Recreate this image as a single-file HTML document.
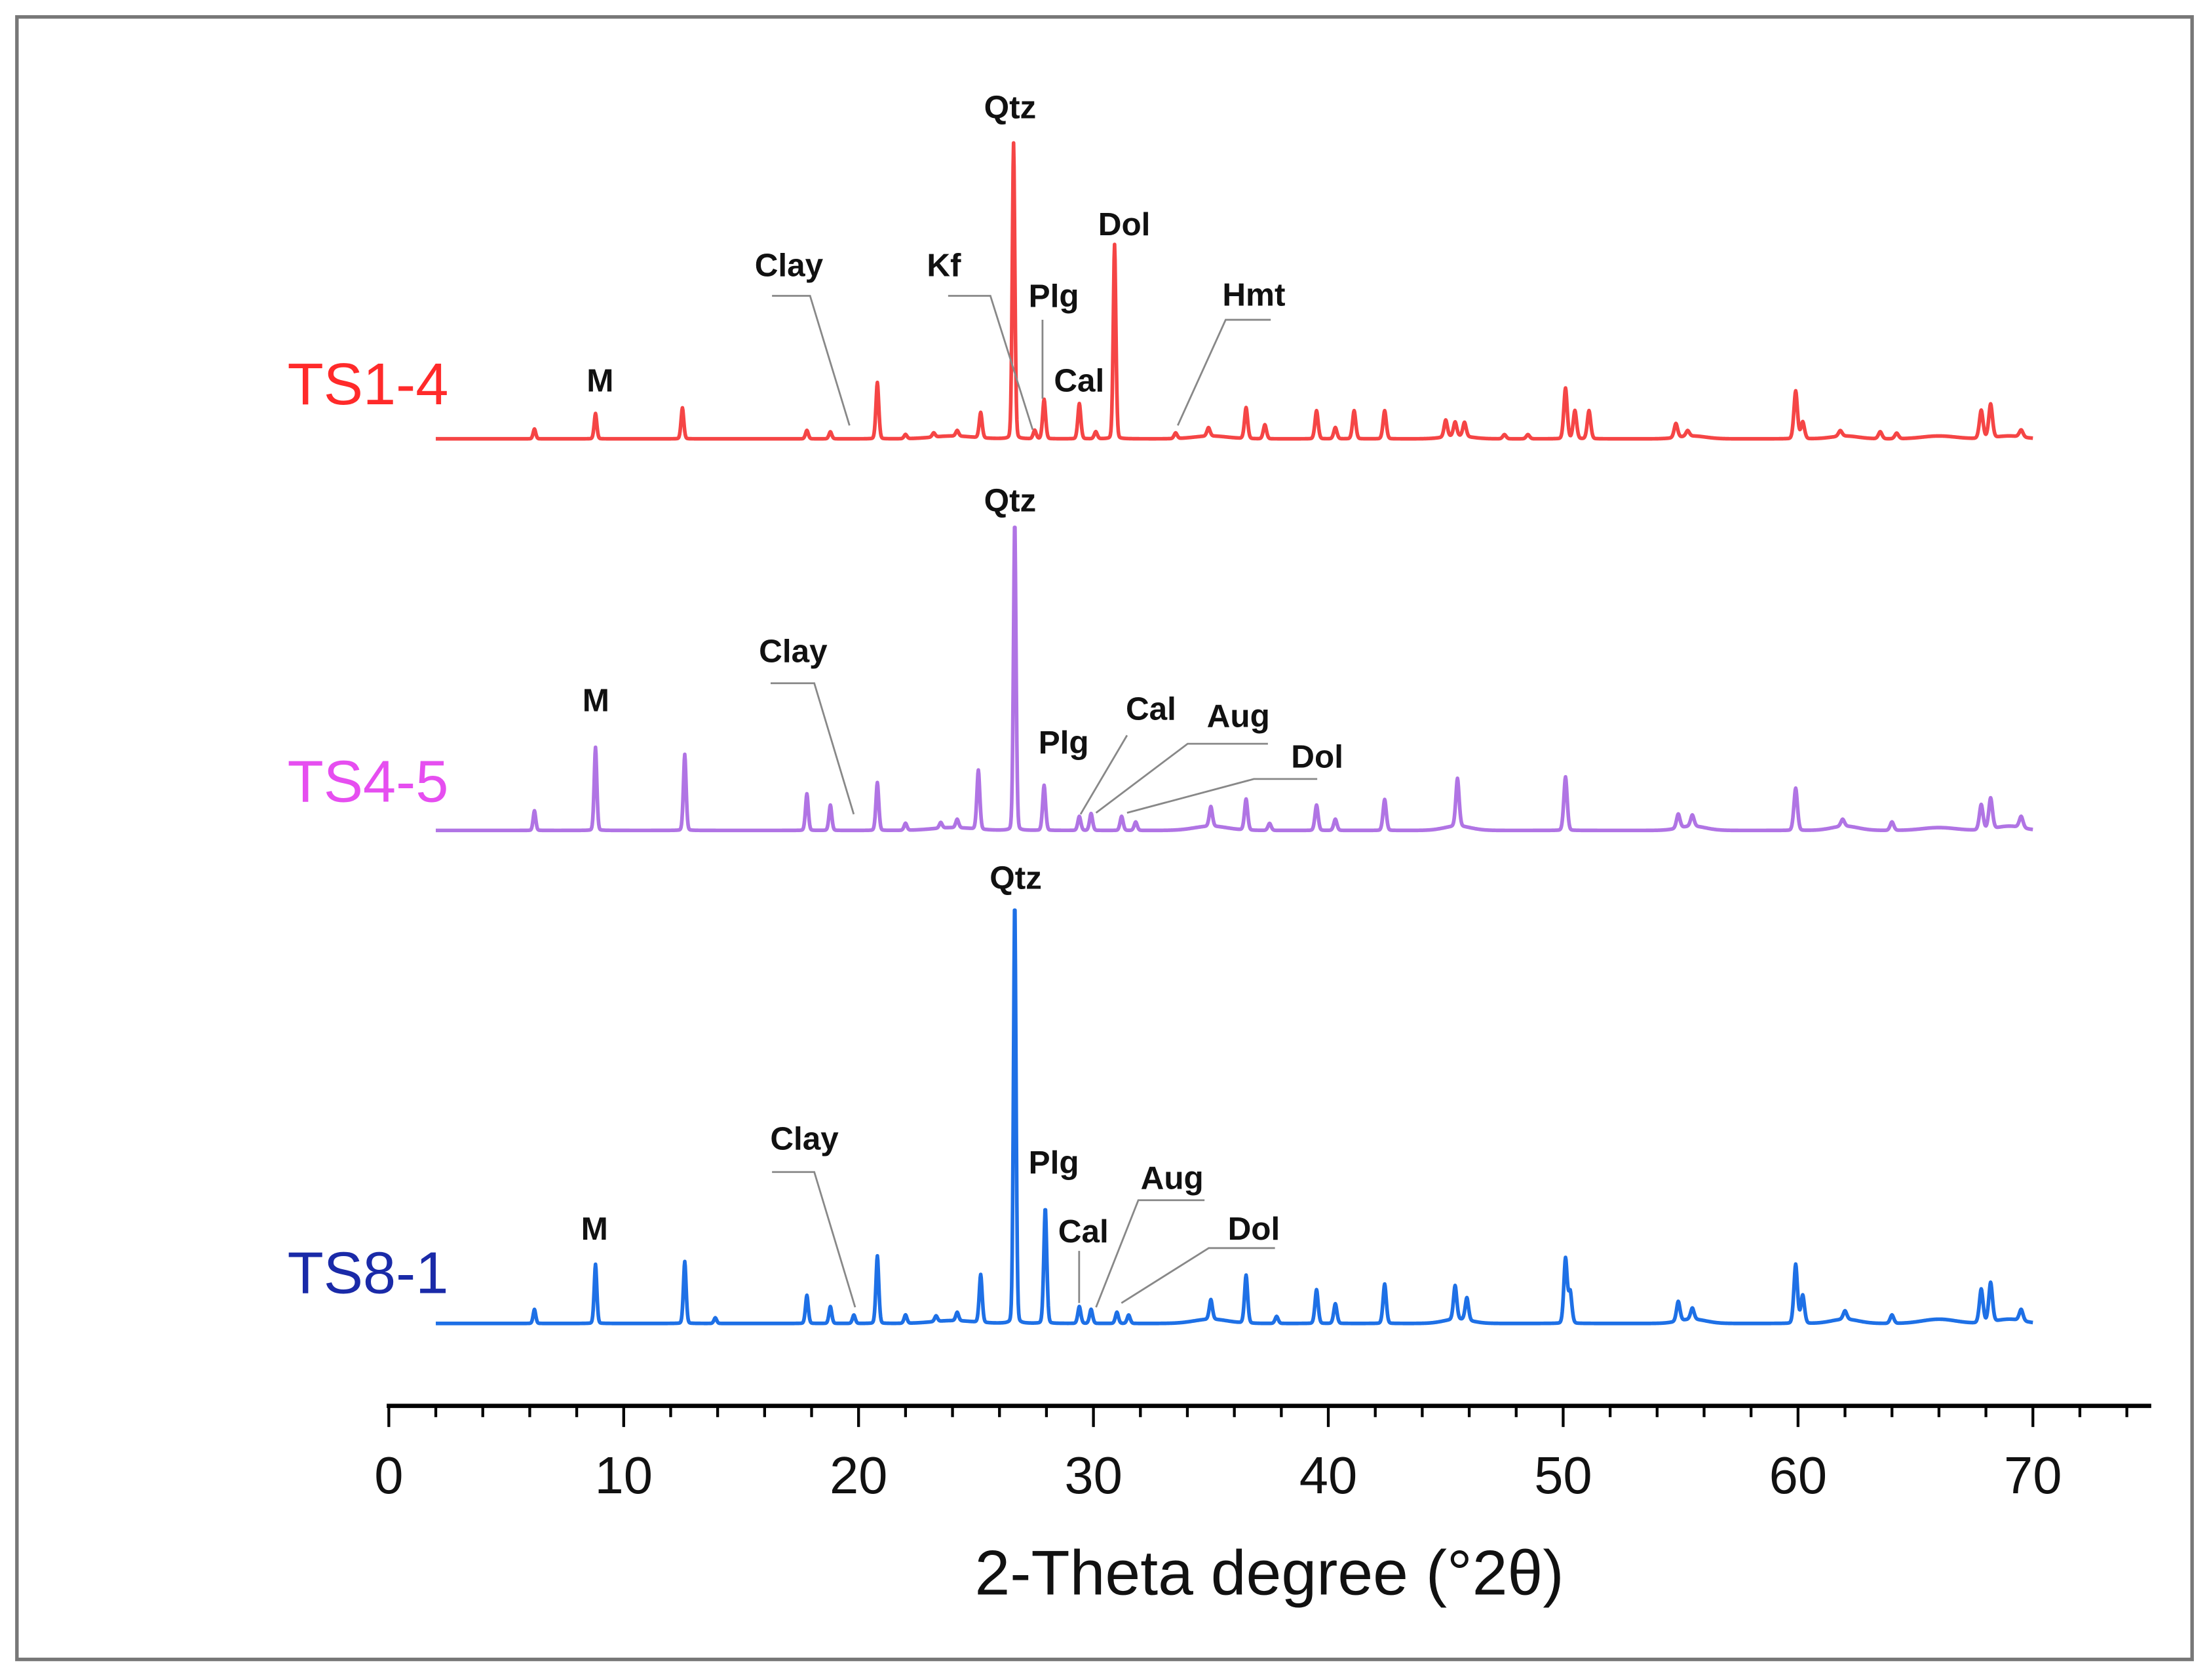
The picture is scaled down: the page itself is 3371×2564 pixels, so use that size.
<!DOCTYPE html>
<html><head><meta charset="utf-8"><style>
html,body{margin:0;padding:0;background:#fff}
svg{display:block}
text{font-family:"Liberation Sans",Arial,sans-serif}
.ann{font-weight:bold;font-size:23px;fill:#111}
.lead{stroke:#888;stroke-width:1.3;fill:none}
</style></head><body>
<svg id="chart" width="3371" height="2564" viewBox="0 0 1568 1192.6" xmlns="http://www.w3.org/2000/svg">
<rect x="12" y="12" width="1544" height="1166" fill="#fff" stroke="#777" stroke-width="2.5"/>
<g id="series"></g>
<g id="axis"></g>
<text x="901" y="1132" font-size="45" text-anchor="middle" fill="#111">2-Theta degree (°2θ)</text>
<text x="204" y="287" font-size="42" fill="#ff2a2a">TS1-4</text>
<text x="204" y="569" font-size="42" fill="#e64ef0">TS4-5</text>
<text x="204" y="918" font-size="42" fill="#1a2aa8">TS8-1</text>
<g>
<text class="ann" x="717" y="84" text-anchor="middle">Qtz</text>
<text class="ann" x="426" y="278" text-anchor="middle">M</text>
<text class="ann" x="560" y="196" text-anchor="middle">Clay</text>
<text class="ann" x="670" y="196" text-anchor="middle">Kf</text>
<text class="ann" x="748" y="218" text-anchor="middle">Plg</text>
<text class="ann" x="766" y="278" text-anchor="middle">Cal</text>
<text class="ann" x="798" y="167" text-anchor="middle">Dol</text>
<text class="ann" x="890" y="217" text-anchor="middle">Hmt</text>
<polyline class="lead" points="548,210 575,210 603,302"/>
<polyline class="lead" points="673,210 703,210 733,305"/>
<polyline class="lead" points="740,227 740,283"/>
<polyline class="lead" points="902,227 870,227 836,302"/>
</g>
<g>
<text class="ann" x="717" y="363" text-anchor="middle">Qtz</text>
<text class="ann" x="423" y="505" text-anchor="middle">M</text>
<text class="ann" x="563" y="470" text-anchor="middle">Clay</text>
<text class="ann" x="755" y="535" text-anchor="middle">Plg</text>
<text class="ann" x="817" y="511" text-anchor="middle">Cal</text>
<text class="ann" x="879" y="516" text-anchor="middle">Aug</text>
<text class="ann" x="935" y="545" text-anchor="middle">Dol</text>
<polyline class="lead" points="547,485 578,485 606,578"/>
<polyline class="lead" points="800,522 767,578"/>
<polyline class="lead" points="900,528 843,528 778,577"/>
<polyline class="lead" points="935,553 890,553 800,577"/>
</g>
<g>
<text class="ann" x="721" y="631" text-anchor="middle">Qtz</text>
<text class="ann" x="422" y="880" text-anchor="middle">M</text>
<text class="ann" x="571" y="816" text-anchor="middle">Clay</text>
<text class="ann" x="748" y="833" text-anchor="middle">Plg</text>
<text class="ann" x="769" y="882" text-anchor="middle">Cal</text>
<text class="ann" x="832" y="844" text-anchor="middle">Aug</text>
<text class="ann" x="890" y="880" text-anchor="middle">Dol</text>
<polyline class="lead" points="548,832 578,832 607,928"/>
<polyline class="lead" points="766,888 766,925"/>
<polyline class="lead" points="855,852 808,852 778,928"/>
<polyline class="lead" points="905,886 858,886 796,925"/>
</g>
</svg>
<script>
const ticks = [0,10,20,30,40,50,60,70];
const ts14Pos = [6.2,8.8,12.5,17.8,18.8,20.8,22,23.2,24.2,25.2,26.6,27.5,27.9,29.4,30.1,30.9,33.5,34.9,36.5,37.3,39.5,40.3,41.1,42.4,45,45.4,45.8,47.5,48.5,50.1,50.5,51.1,54.8,55.3,59.9,60.2,61.8,63.5,64.2,67.8,68.2,69.5];
const ts14Int = [7,18,22,6,5,40,3,3,4,18,210,6,28,25,5,138,4,6,22,10,20,8,20,20,12,10,10,3,3,36,20,20,10,4,34,12,4,5,4,20,24,5];
const ts45Pos = [6.2,8.8,12.6,17.8,18.8,20.8,22,23.5,24.2,25.1,26.65,27.9,29.4,29.9,31.2,31.8,35,36.5,37.5,39.5,40.3,42.4,45.5,50.1,54.9,55.5,59.9,61.9,64,67.8,68.2,69.5];
const ts45Int = [14,59,54,26,18,34,5,4,6,42,220,32,10,12,10,6,14,22,5,18,8,22,34,38,10,8,30,5,6,18,22,8];
const ts81Pos = [6.2,8.8,12.6,13.9,17.8,18.8,19.8,20.8,22,23.3,24.2,25.2,26.65,27.95,29.4,29.9,31,31.5,35,36.5,37.8,39.5,40.3,42.4,45.4,45.9,50.1,50.3,54.9,55.5,59.9,60.2,62,64,67.8,68.2,69.5];
const ts81Int = [10,42,44,4,20,12,6,48,6,4,6,34,300,82,12,10,8,6,14,34,5,24,14,28,24,16,46,22,14,8,42,20,6,6,24,28,8];
const humpPos = [24, 35, 45.5, 55.5, 62, 66, 69];
const ts14Hump = [2, 2, 2, 2, 2, 2, 2];
const ts45Hump = [2, 3, 3, 3, 3, 2, 3];
const ts81Hump = [2, 3, 3, 3, 3, 3, 3];
const humpW = [1.2, 1, 0.8, 0.8, 0.8, 1, 0.8];

const X0=276, X70=1443;
const xs = v => X0 + (X70-X0)*v/70;
const NS='http://www.w3.org/2000/svg';
const series = document.getElementById('series');
function addSeries(pos, inte, hump, base, color, name){
  let d='';
  for(let x=2;x<=70.0001;x+=0.02){
    let y=0;
    for(let i=0;i<pos.length;i++){
      const w=(inte[i]>100?0.07:0.08)*(1+x/140);
      const dx=(x-pos[i])/w;
      y+=inte[i]*(0.8*Math.exp(-dx*dx)+0.2/(1+dx*dx*4));
    }
    for(let j=0;j<humpPos.length;j++){
      const dh=(x-humpPos[j])/humpW[j];
      y+=hump[j]*Math.exp(-dh*dh);
    }
    y+=1.5;
    d+=(d?'L':'M')+xs(x).toFixed(2)+','+(base-y).toFixed(2);
  }
  const p=document.createElementNS(NS,'path');
  p.setAttribute('d',d);p.setAttribute('fill','none');p.setAttribute('stroke',color);
  p.setAttribute('stroke-width','2.6');p.setAttribute('stroke-linejoin','round');
  
  
  series.appendChild(p);
}
addSeries(ts14Pos,ts14Int,ts14Hump,313,'#f54545','ts1-4-pattern');
addSeries(ts45Pos,ts45Int,ts45Hump,591,'#b074e4','ts4-5-pattern');
addSeries(ts81Pos,ts81Int,ts81Hump,941,'#1e70e6','ts8-1-pattern');

const ax=document.getElementById('axis');
const line=document.createElementNS(NS,'line');
line.setAttribute('x1',X0-1.5);line.setAttribute('x2',1527);line.setAttribute('y1',998);line.setAttribute('y2',998);
line.setAttribute('stroke','#000');line.setAttribute('stroke-width','3');


ax.appendChild(line);
for(let v=0; v<=74; v+=2){
  const major = v%10===0;
  const t=document.createElementNS(NS,'line');
  t.setAttribute('x1',xs(v));t.setAttribute('x2',xs(v));t.setAttribute('y1',998);t.setAttribute('y2',major?1013:1006);
  t.setAttribute('stroke','#000');t.setAttribute('stroke-width','2');
  
  
  ax.appendChild(t);
}
ticks.forEach(v=>{
  const tx=document.createElementNS(NS,'text');
  tx.setAttribute('x',xs(v));tx.setAttribute('y',1060);tx.setAttribute('font-size','37');
  tx.setAttribute('text-anchor','middle');tx.setAttribute('fill','#111');
  tx.textContent=v;
  
  
  ax.appendChild(tx);
});
</script>
</body></html>
